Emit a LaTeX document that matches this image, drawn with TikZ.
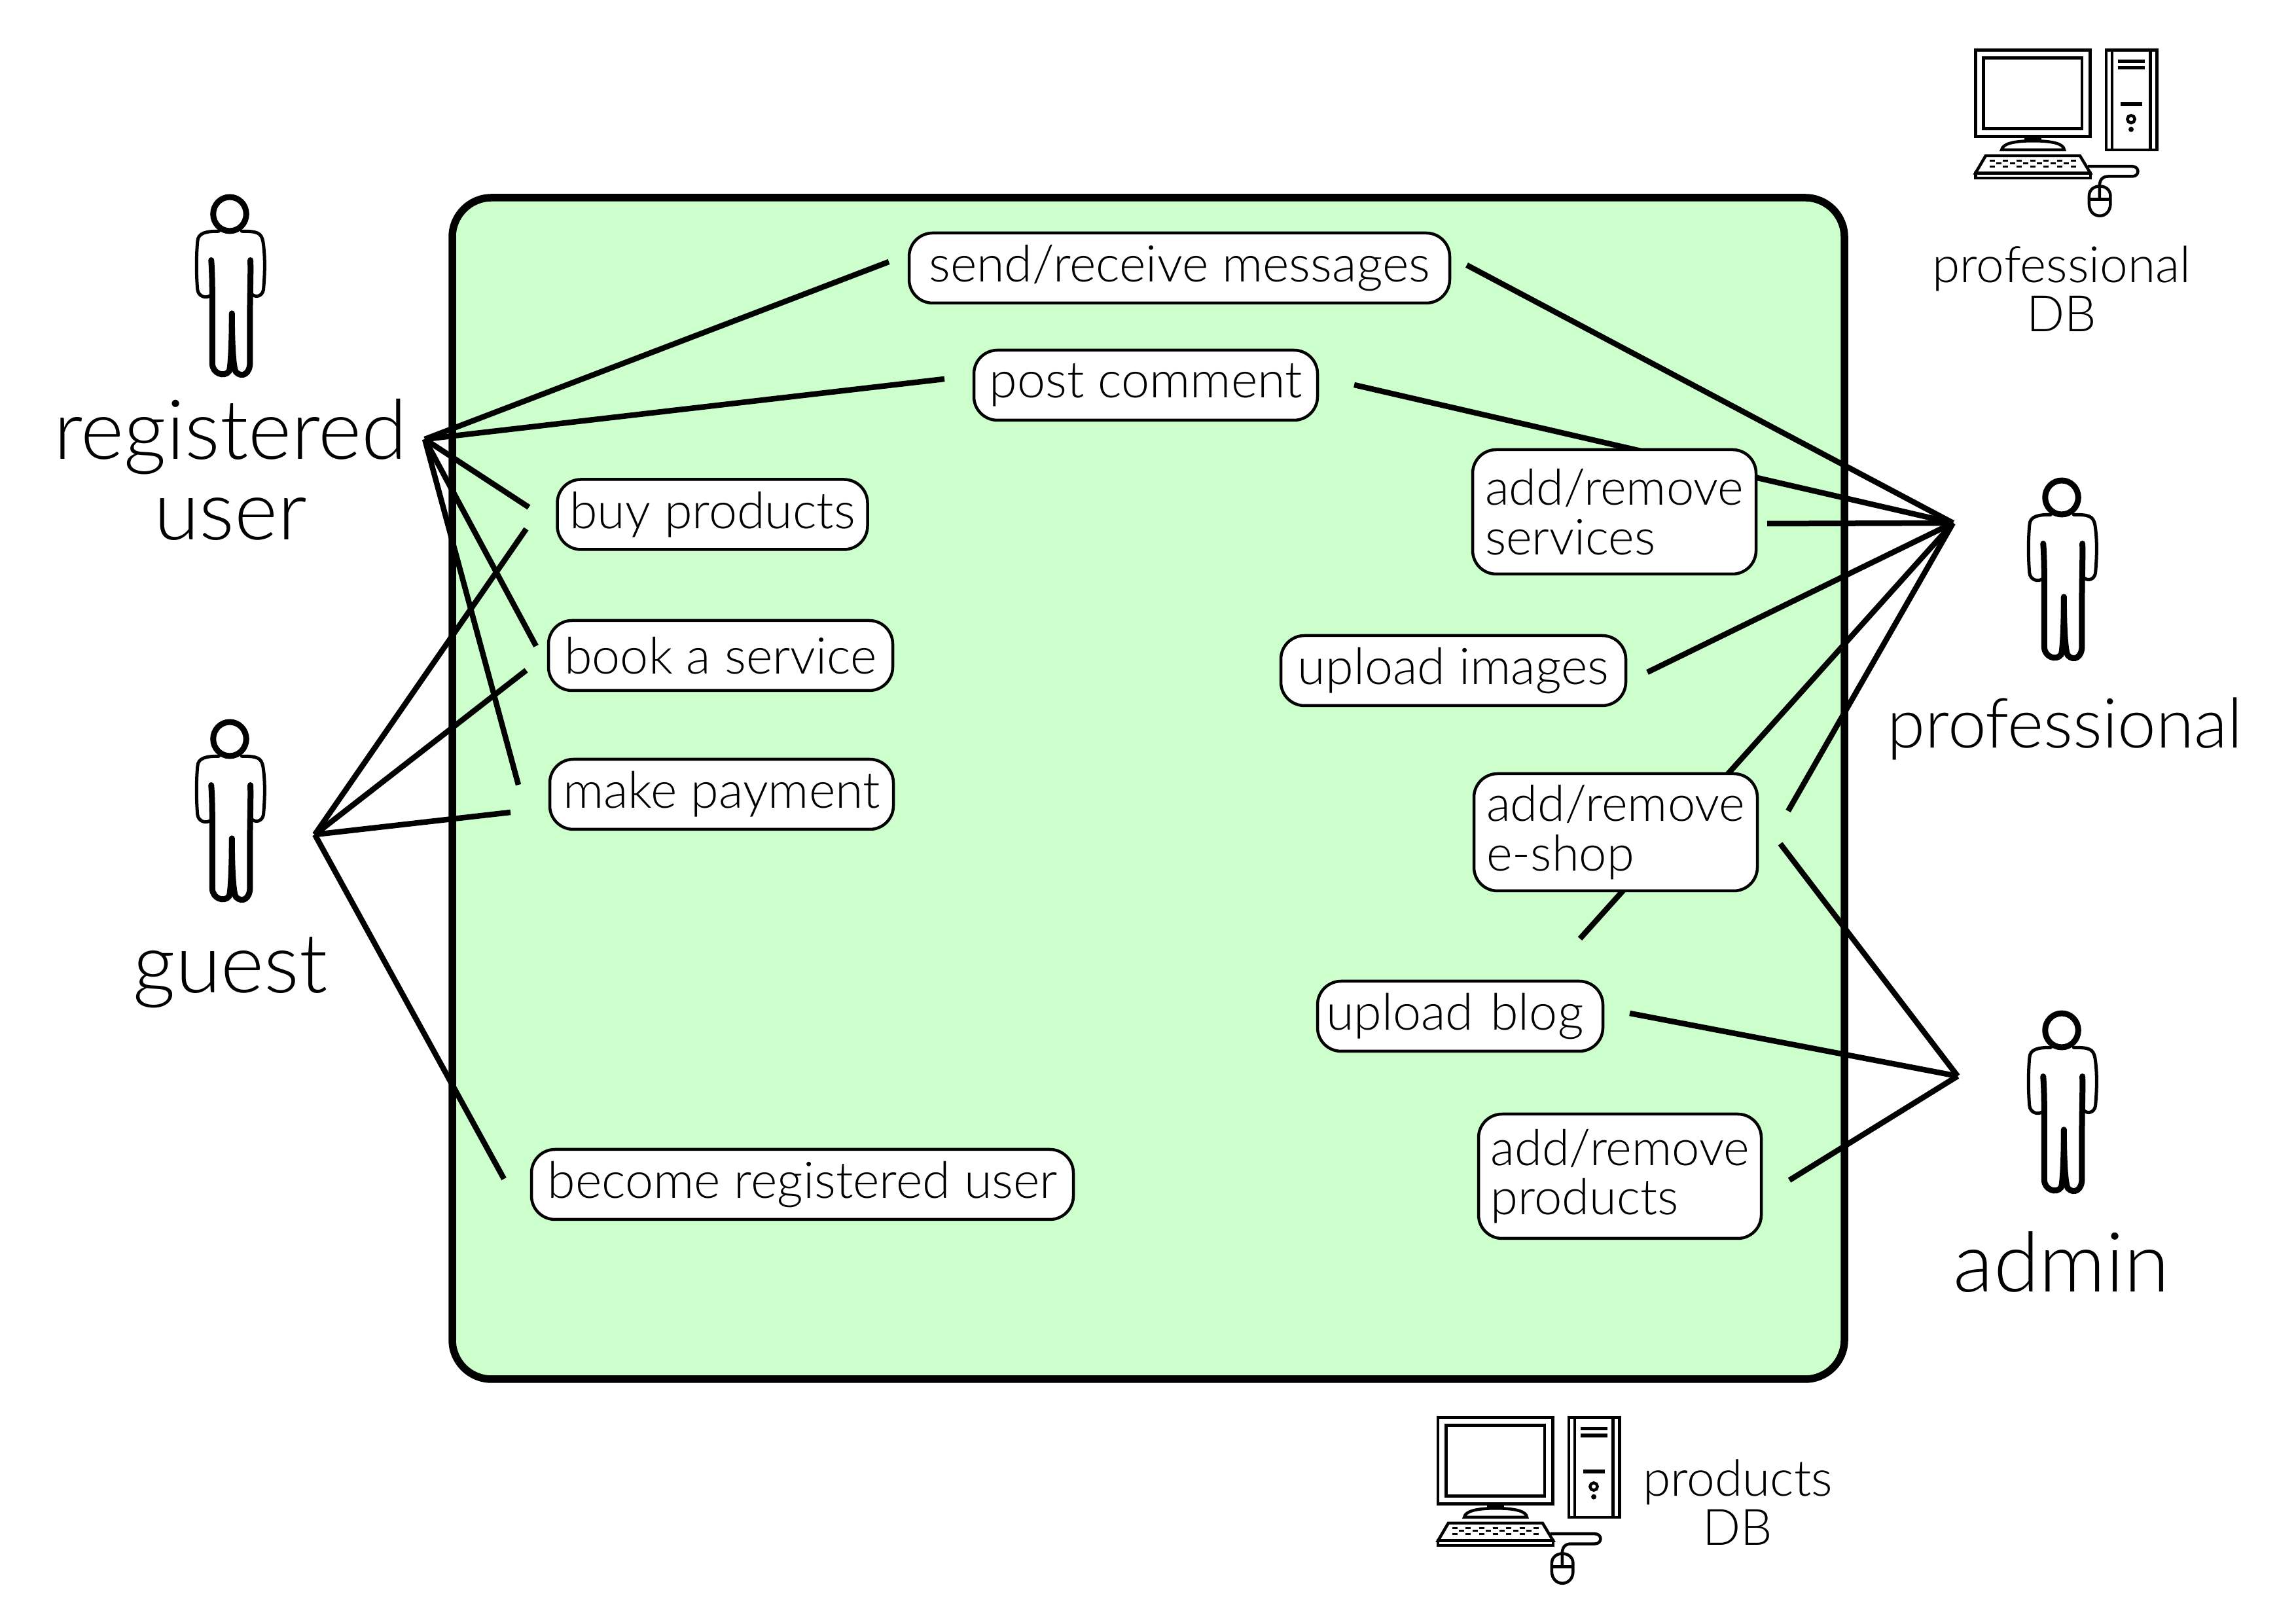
\documentclass[tikz,border=0pt]{standalone}
\usepackage{xcolor}
\usepackage{fontspec}
\setmainfont{Lato Light}
\usepackage{tikz}
\definecolor{mygreen}{RGB}{204,255,204}
\definecolor{myblack}{RGB}{0,0,0}
\tikzset{
  usecase/.style={rectangle, draw=myblack, fill=white, line width=0.045cm,
    rounded corners=0.36cm, align=left, minimum height=1.07cm,
    inner sep=0pt, font=\fontsize{22}{21.5}\selectfont},
  twoline/.style={usecase, text width=3.95cm, font=\fontsize{21.6}{21.5}\selectfont},
  actorlabel/.style={align=center, inner sep=0pt,
    font=\fontsize{36}{35}\selectfont},
  dblabel/.style={align=center, inner sep=0pt,
    font=\fontsize{21.8}{21.5}\selectfont},
  link/.style={draw=myblack, line width=0.085cm},
  actor/.pic={
    \begin{scope}[x=0.003333cm, y=-0.003333cm, shift={(-275,-143)}, line cap=round]
      \draw[line width=0.09cm] (275,143) ellipse (76 and 78);
      % arms
      \draw[line width=0.05cm] (225,222) .. controls (170,222) and (128,228) .. (127,270)
        .. controls (120,350) and (122,430) .. (127,490) .. controls (130,520) and (165,535) .. (190,515);
      \draw[line width=0.05cm] (330,222) .. controls (400,222) and (420,228) .. (428,270)
        .. controls (440,350) and (435,430) .. (430,490) .. controls (425,520) and (395,530) .. (375,510);
      % legs
      \draw[line width=0.09cm] (190,355) .. controls (195,420) and (195,500) .. (195,600) -- (195,830)
        .. controls (195,875) and (250,895) .. (272,865) .. controls (280,850) and (285,720) .. (285,600);
      \draw[line width=0.09cm] (285,600) .. controls (285,720) and (290,860) .. (305,870)
        .. controls (330,895) and (370,880) .. (368,820) -- (368,600) .. controls (368,500) and (372,420) .. (370,355);
    \end{scope}
  },
  computer/.pic={
    \begin{scope}[x=0.003333cm, y=-0.003333cm, line width=0.045cm]
      % monitor
      \draw (175,80) rectangle (702,476);
      \draw (212,116) rectangle (665,441);
      \fill (400,476) rectangle (478,500);
      \draw (295,538) .. controls (300,510) and (350,497) .. (440,497)
        .. controls (530,497) and (580,510) .. (583,538) -- cycle;
      % tower
      \draw (775,80) rectangle (1008,538);
      \draw (803,80) -- (803,538);
      \draw (978,80) -- (978,538);
      \foreach \bary/\barl/\barr in {130/830/952, 162/830/952, 328/842/940}
        \draw[line width=0.053cm] (\barl,\bary) -- (\barr,\bary);
      \draw (890,397) circle (17);
      \fill (890,444) circle (12);
      % keyboard
      \draw (222,565) -- (655,565) -- (703,645) -- (175,645) -- cycle;
      \draw (175,645) rectangle (703,667);
      \foreach \keyx in {252,314,376,438,500,562,624} {
        \draw[line width=0.03cm] (\keyx-12,587) -- (\keyx+12,587);
        \draw[line width=0.03cm] (\keyx-12,614) -- (\keyx+12,614);
      }
      \foreach \keyx in {283,345,407,469,531,593}
        \draw[line width=0.03cm] (\keyx-12,601) -- (\keyx+12,601);
      % cable and mouse
      \draw (690,614) -- (895,614) .. controls (930,614) and (930,660) .. (895,660) -- (785,660)
        .. controls (755,660) and (745,680) .. (745,705) -- (745,765);
      \draw (697,750) .. controls (697,690) and (795,690) .. (795,750) -- (795,785)
        .. controls (795,860) and (697,860) .. (697,785) -- cycle;
      \draw (697,765) -- (795,765);
    \end{scope}
  }
}
\begin{document}
\begin{tikzpicture}
  \useasboundingbox (0,0) rectangle (35.08,24.8);
  \fill[white] (0,0) rectangle (35.08,24.8);

  % System boundary
  \draw[fill=mygreen, line width=0.115cm, rounded corners=0.6cm] (6.91,3.73) rectangle (28.18,21.78);

  % Hubs beside the actors
  \coordinate (reghub) at (6.49,18.09);
  \coordinate (guesthub) at (4.81,12.05);
  \coordinate (prohub) at (29.84,16.81);
  \coordinate (adminhub) at (29.91,8.36);

  % Free ends next to the use cases
  \coordinate (regsend) at (13.58,20.80);
  \coordinate (regpost) at (14.43,19.01);
  \coordinate (regbuy) at (8.08,17.05);
  \coordinate (regbook) at (8.19,14.93);
  \coordinate (regmake) at (7.92,12.81);
  \coordinate (guestbuy) at (8.04,16.72);
  \coordinate (guestbook) at (8.04,14.56);
  \coordinate (guestmake) at (7.80,12.39);
  \coordinate (guestbecome) at (7.70,6.79);
  \coordinate (prosend) at (22.41,20.75);
  \coordinate (propost) at (20.69,18.92);
  \coordinate (proserv) at (27.00,16.80);
  \coordinate (proimg) at (25.17,14.53);
  \coordinate (problog) at (24.14,10.46);
  \coordinate (proshop) at (27.32,12.41);
  \coordinate (adminshop) at (27.20,11.91);
  \coordinate (adminblog) at (24.90,9.32);
  \coordinate (adminprod) at (27.34,6.77);

  % Connectors - drawn first so the use cases sit on top
  \foreach \target in {regsend, regpost, regbuy, regbook, regmake}
    \draw[link] (reghub) -- (\target);
  \foreach \target in {guestbuy, guestbook, guestmake, guestbecome}
    \draw[link] (guesthub) -- (\target);
  \foreach \target in {prosend, propost, proserv, proimg, problog, proshop}
    \draw[link] (prohub) -- (\target);
  \foreach \target in {adminshop, adminblog, adminprod}
    \draw[link] (adminhub) -- (\target);

  % Use cases on the left
  \node[usecase, minimum width=4.74cm] (buy) at (10.885,16.94) {buy products};
  \node[usecase, minimum width=5.26cm] (book) at (11.01,14.785) {book a service};
  \node[usecase, minimum width=5.25cm] (make) at (11.025,12.665) {make payment};
  \node[usecase, minimum width=8.28cm] (become) at (12.26,6.705) {become registered user};

  % Use cases on top
  \node[usecase, minimum width=8.26cm] (send) at (18.02,20.705) {send/receive messages};
  \node[usecase, minimum width=5.25cm] (post) at (17.505,18.915) {post comment};

  % Use cases on the right
  \node[twoline, minimum width=4.33cm, minimum height=1.90cm] (addserv) at (24.665,16.98) {add/remove\\services};
  \node[usecase, minimum width=5.27cm] (upimg) at (22.205,14.555) {upload images};
  \node[twoline, minimum width=4.33cm, minimum height=1.79cm] (addshop) at (24.685,12.085) {add/remove\\e-shop};
  \node[usecase, text width=4.10cm, minimum width=4.36cm] (upblog) at (22.31,9.275) {upload blog};
  \node[twoline, minimum width=4.32cm, minimum height=1.90cm] (addprod) at (24.75,6.83) {add/remove\\products};

  % Actors
  \pic at (3.51,21.53) {actor};
  \pic at (3.51,13.51) {actor};
  \pic at (31.50,17.20) {actor};
  \pic at (31.50,9.06) {actor};
  \node[actorlabel] (reguser) at (3.52,17.62) {registered\\user};
  \node[actorlabel, anchor=base] (guest) at (3.52,9.63) {guest};
  \node[actorlabel, anchor=base, font=\fontsize{30}{35}\selectfont] (professional) at (31.55,13.37) {professional};
  \node[actorlabel, anchor=base] (admin) at (31.50,5.06) {admin};

  % Computers
  \pic at (29.60,24.30) {computer};
  \pic at (21.39,3.41) {computer};
  \node[dblabel] (prodb) at (31.50,20.39) {professional\\DB};
  \node[dblabel] (productsdb) at (26.55,1.85) {products\\DB};
\end{tikzpicture}
\end{document}
